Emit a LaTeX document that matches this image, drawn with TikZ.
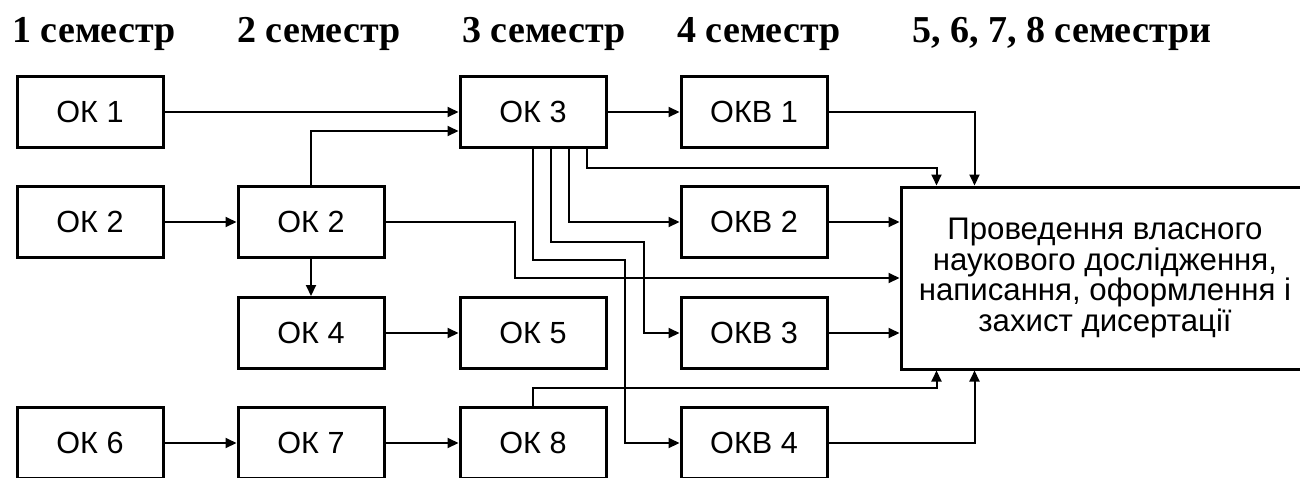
\documentclass[tikz,border=0pt]{standalone}
\usepackage{fontspec}
\setmainfont{Liberation Sans}
\newfontfamily\semfont{Liberation Serif}
\usetikzlibrary{positioning,arrows.meta}

\begin{document}
\begin{tikzpicture}[x=0.5pt,y=-0.5pt,
  kbox/.style={draw,line width=1.5pt,minimum width=73pt,minimum height=35.5pt,inner sep=2pt,font=\fontsize{15.3}{18}\selectfont},
  sem/.style={anchor=base west,inner sep=0pt,font=\semfont\bfseries\fontsize{19}{22}\selectfont},
  arr/.style={line width=1pt,-{Triangle[length=5.5pt,width=5pt]}}]
      \useasboundingbox (0,0) rectangle (1300,477);
      \node[sem](h1) at (12,42){1 семестр};
      \node[sem](h2) at (237,42){2 семестр};
      \node[sem](h3) at (462,42){3 семестр};
      \node[sem](h4) at (677,42){4 семестр};
      \node[sem](h5) at (912,42){5, 6, 7, 8 семестри};
      \node[kbox](ok1) at (90,112){ОК 1};
      \node[kbox](ok2x) at (90,222){ОК 2};
      \node[kbox](ok6) at (90,443){ОК 6};
      \node[kbox](ok2) at (311,222){ОК 2};
      \node[kbox](ok4) at (311,333){ОК 4};
      \node[kbox](ok7) at (311,443){ОК 7};
      \node[kbox](ok3) at (533,112){ОК 3};
      \node[kbox](ok5) at (533,333){ОК 5};
      \node[kbox](ok8) at (533,443){ОК 8};
      \node[kbox](okv1) at (754,112){ОКВ 1};
      \node[kbox](okv2) at (754,222){ОКВ 2};
      \node[kbox](okv3) at (754,333){ОКВ 3};
      \node[kbox](okv4) at (754,443){ОКВ 4};
      \node[draw,line width=1.5pt,minimum width=204pt,minimum height=91pt,align=center,
        font=\fontsize{15.6}{15.4}\selectfont](dis) at (1105,278)
        {Проведення власного\\наукового дослідження,\\написання, оформлення і\\захист дисертації};
      \draw[arr] (ok1) -- (ok3);
      \draw[arr] (ok2x) -- (ok2);
      \draw[arr] (ok2) -- (ok4);
      \draw[arr] (ok2.north) |- ([yshift=-9.5pt]ok3.west);
      \draw[arr] (ok4) -- (ok5);
      \draw[arr] (ok6) -- (ok7);
      \draw[arr] (ok7) -- (ok8);
      \draw[arr] (ok3) -- (okv1);
      \draw[arr] ([xshift=18pt]ok3.south) |- (okv2.west);
      \draw[arr] ([xshift=9pt]ok3.south) -- ++(0,93) -- ++(93,0) |- (okv3.west);
      \draw[arr] (ok3.south) -- ++(0,111) -- ++(92,0) |- (okv4.west);
      \draw[arr] ([xshift=27pt]ok3.south) -- ++(0,19) -| ([xshift=18.5pt]dis.north west);
      \draw[arr] (okv1.east) -| ([xshift=37.5pt]dis.north west);
      \draw[arr] (okv2.east) -- (okv2.east -| dis.west);
      \draw[arr] (ok2.east) -- ++(129,0) |- (dis.west);
      \draw[arr] (okv3.east) -- (okv3.east -| dis.west);
      \draw[arr] (ok8.north) -- ++(0,-18) -| ([xshift=18.5pt]dis.south west);
      \draw[arr] (okv4.east) -| ([xshift=37.5pt]dis.south west);
    \end{tikzpicture}
\end{document}
